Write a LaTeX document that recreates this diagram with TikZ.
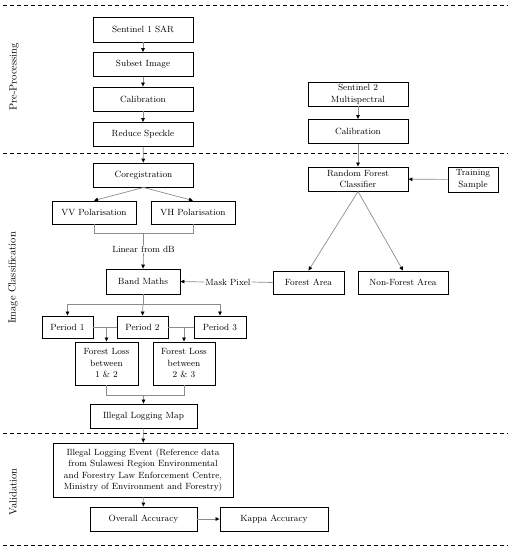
\documentclass[tikz,border=0pt]{standalone}
\usetikzlibrary{arrows.meta}
\definecolor{conn}{gray}{0.55}
\begin{document}
\begin{tikzpicture}[x=1pt,y=-1pt,
  box/.style={draw=black,line width=0.9pt,inner sep=0pt,align=center,
    font=\fontsize{9}{11.5}\selectfont,anchor=center},
  lbl/.style={inner sep=1pt,font=\fontsize{9}{11.5}\selectfont,anchor=center},
  sect/.style={rotate=90,font=\fontsize{10.5}{12}\selectfont,anchor=center},
  conline/.style={draw=conn,line width=0.7pt},
  arr/.style={conline,-{Triangle[length=4pt,width=3.6pt,black]}},
  sep/.style={draw=black,line width=0.9pt,dash pattern=on 4pt off 3pt}
]
\useasboundingbox (0,0) rectangle (512,550);
% separators
\draw[sep] (3,5) -- (508,5);
\draw[sep] (3,153) -- (508,153);
\draw[sep] (3,433) -- (508,433);
\draw[sep] (3,545) -- (508,545);
% section labels
\node[sect] (secpre) at (14,77) {Pre-Processing};
\node[sect] (secimg) at (13,278) {Image Classification};
\node[sect] (secval) at (13,492) {Validation};
% pre-processing
\node[box,minimum width=100pt,minimum height=25pt] (s1) at (143,29.5) {Sentinel 1 SAR};
\node[box,minimum width=100pt,minimum height=24pt] (subset) at (143,64.5) {Subset Image};
\node[box,minimum width=100pt,minimum height=24pt] (cal1) at (143,99) {Calibration};
\node[box,minimum width=100pt,minimum height=24pt] (speckle) at (143,134.5) {Reduce Speckle};
\node[box,minimum width=100pt,minimum height=24pt] (s2) at (358,94) {Sentinel 2\\Multispectral};
\node[box,minimum width=100pt,minimum height=24pt] (cal2) at (358,131.5) {Calibration};
% image classification
\node[box,minimum width=100pt,minimum height=24pt] (coreg) at (143.5,175) {Coregistration};
\node[box,minimum width=84pt,minimum height=23pt] (vv) at (94,212.5) {VV Polarisation};
\node[box,minimum width=84pt,minimum height=23pt] (vh) at (193,212.5) {VH Polarisation};
\node[lbl] (linear) at (143.5,249) {Linear from dB};
\node[box,minimum width=74pt,minimum height=25pt] (band) at (143,281.5) {Band Maths};
\node[lbl] (mask) at (228,282) {Mask Pixel};
\node[box,minimum width=100pt,minimum height=24pt] (rf) at (358,179) {Random Forest\\Classifier};
\node[box,minimum width=50pt,minimum height=25pt] (train) at (473,179.5) {Training\\Sample};
\node[box,minimum width=71pt,minimum height=23pt] (forest) at (308.5,282.5) {Forest Area};
\node[box,minimum width=90pt,minimum height=23pt] (nonforest) at (403,282.5) {Non-Forest Area};
\node[box,minimum width=51pt,minimum height=22pt] (p1) at (67.5,327) {Period 1};
\node[box,minimum width=51pt,minimum height=22pt] (p2) at (142.5,327) {Period 2};
\node[box,minimum width=52pt,minimum height=22pt] (p3) at (220,327) {Period 3};
\node[box,minimum width=63pt,minimum height=43pt] (fl1) at (106.5,363.5) {Forest Loss\\between\\1 \& 2};
\node[box,minimum width=62pt,minimum height=43pt] (fl2) at (184,363.5) {Forest Loss\\between\\2 \& 3};
\node[box,minimum width=107pt,minimum height=24pt] (map) at (143.5,416) {Illegal Logging Map};
% validation
\node[box,minimum width=180pt,minimum height=54pt] (event) at (143,470) {Illegal Logging Event (Reference data\\from Sulawesi Region Environmental\\and Forestry Law Enforcement Centre,\\Ministry of Environment and Forestry)};
\node[box,minimum width=107pt,minimum height=24pt] (overall) at (143.5,519) {Overall Accuracy};
\node[box,minimum width=108pt,minimum height=24pt] (kappa) at (274,519) {Kappa Accuracy};
% coordinates
\coordinate (vvb) at (94,233);
\coordinate (vhb) at (193,233);
\coordinate (pb) at (143.5,233);
\coordinate (bb) at (143,304);
\coordinate (fb1) at (106.5,395);
\coordinate (fb2) at (184,395);
\coordinate (fbm) at (143.5,395);
\coordinate (j12) at (106.5,327);
\coordinate (j23) at (184,327);
% connectors
\draw[arr] (s1) -- (subset);
\draw[arr] (subset) -- (cal1);
\draw[arr] (cal1) -- (speckle);
\draw[arr] (speckle) -- (coreg);
\draw[arr] (s2) -- (cal2);
\draw[arr] (cal2) -- (rf);
\draw[arr] (train) -- (rf);
\draw[arr] (coreg.south) -- (vv.north);
\draw[arr] (coreg.south) -- (vh.north);
\draw[conline] (vv.south) -- (vvb) -- (vhb) -- (vh.south);
\draw[conline] (pb) -- (linear.north);
\draw[arr] (linear.south) -- (band.north);
\draw[arr] (mask.west) -- (band.east);
\draw[conline] (forest.west) -- (mask.east);
\draw[arr] (rf.south) -- (forest.north);
\draw[arr] (rf.south) -- (nonforest.north);
\draw[conline] (band.south) -- (bb);
\draw[arr] (bb) -| (p1.north);
\draw[arr] (bb) -- (p2.north);
\draw[arr] (bb) -| (p3.north);
\draw[conline] (p1.east) -- (p2.west);
\draw[conline] (p2.east) -- (p3.west);
\draw[arr] (j12) -- (fl1.north);
\draw[arr] (j23) -- (fl2.north);
\draw[conline] (fl1.south) -- (fb1) -- (fb2) -- (fl2.south);
\draw[arr] (fbm) -- (map.north);
\draw[arr] (map) -- (event);
\draw[arr] (event) -- (overall);
\draw[arr] (overall) -- (kappa);
\end{tikzpicture}
\end{document}
